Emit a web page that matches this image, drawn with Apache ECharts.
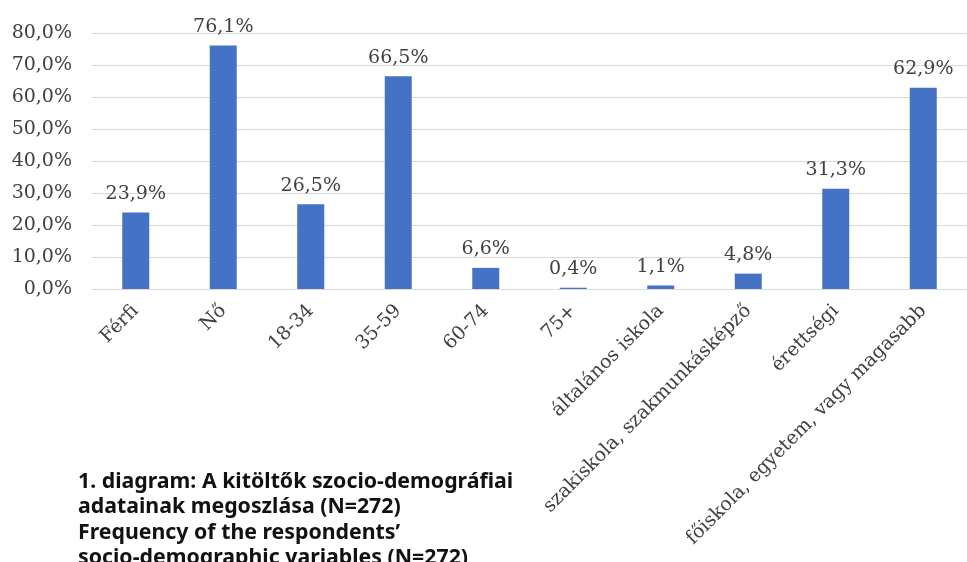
<!DOCTYPE html>
<html>
<head>
<meta charset="utf-8">
<script src="https://cdn.jsdelivr.net/npm/echarts@6/dist/echarts.min.js"></script>
<style>
  html, body { margin: 0; padding: 0; background: #fff; }
  #chart { width: 967px; height: 562px; }
</style>
</head>
<body>
<div id="chart"></div>
<script>
var categories = ["Férfi", "Nő", "18-34", "35-59", "60-74", "75+",
    "általános iskola", "szakiskola, szakmunkásképző", "érettségi",
    "főiskola, egyetem, vagy magasabb"]
var shares = [23.9, 76.1, 26.5, 66.5, 6.6, 0.4, 1.1, 4.8, 31.3, 62.9]
var captionLines = [
    "1. diagram: A kitöltők szocio-demográfiai",
    "adatainak megoszlása (N=272)",
    "Frequency of the respondents’",
    "socio-demographic variables (N=272)"
]

function pct(v) {
    return Number(v).toFixed(1).replace(".", ",") + "%"
}

var serif = "DejaVu Serif"

echarts.init(document.getElementById("chart")).setOption({
    backgroundColor: "#ffffff",
    animation: false,
    title: {
        text: captionLines.join("\n"),
        left: 78,
        top: 469,
        padding: 0,
        textStyle: {
            fontFamily: "Noto Sans",
            fontWeight: "bold",
            fontSize: 21.3,
            lineHeight: 25.5,
            color: "#111"
        }
    },
    grid: {
        left: 92,
        top: 33,
        width: 882,
        bottom: 273
    },
    xAxis: {
        type: "category",
        data: categories,
        axisLine: { lineStyle: { color: "#d9d9d9", width: 1 } },
        axisTick: { show: false },
        axisLabel: {
            rotate: 45,
            interval: 0,
            margin: 19,
            fontFamily: serif,
            fontSize: 19,
            color: "#404040"
        }
    },
    yAxis: {
        type: "value",
        min: 0,
        max: 80,
        interval: 10,
        axisLine: { show: false },
        axisTick: { show: false },
        splitLine: { lineStyle: { color: "#d9d9d9", width: 1 } },
        axisLabel: {
            margin: 20,
            fontFamily: serif,
            fontSize: 19,
            color: "#404040",
            formatter: pct
        }
    },
    series: [{
        type: "bar",
        data: shares,
        barWidth: 27,
        itemStyle: { color: "#4472c4" },
        label: {
            show: true,
            position: "top",
            distance: 9,
            fontFamily: serif,
            fontSize: 19,
            color: "#404040",
            formatter: function (p) { return pct(p.value) }
        }
    }]
})
</script>
</body>
</html>
